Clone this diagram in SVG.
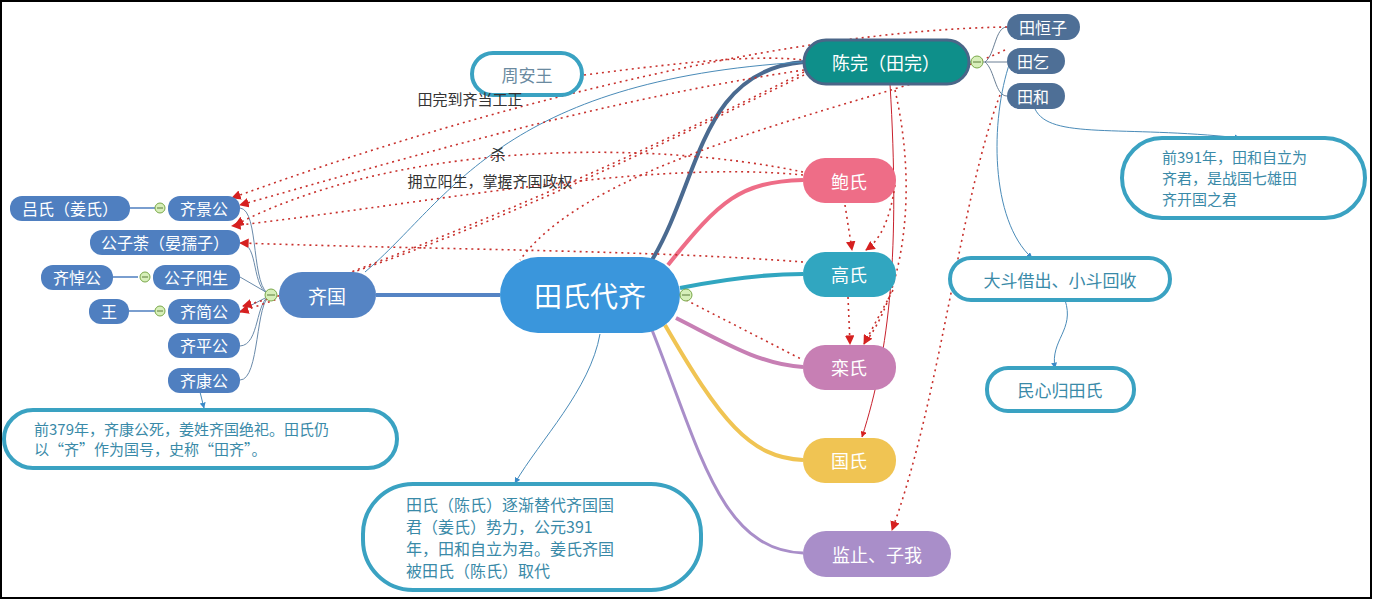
<svg xmlns="http://www.w3.org/2000/svg" width="1373" height="601" viewBox="0 0 1373 601">
<style>
text{font-family:"Noto Sans CJK SC","Liberation Sans",sans-serif;text-anchor:middle;dominant-baseline:central}
.w{fill:#fff}
.sm{font-size:16px;fill:#fff}
.sn{fill:#4f7fc0}
.ob{fill:#fff;stroke:#3aa2c2;stroke-width:4}
.ot{font-size:17px;fill:#3a8aa8}
.ml{fill:#3a8aa8;text-anchor:start;dominant-baseline:auto}
.dot{fill:none;stroke:#c8302c;stroke-width:1.6;stroke-dasharray:2 4}
.thin{fill:none;stroke:#4a8bb8;stroke-width:1}
.lbl{font-size:15px;fill:#333}
.col{fill:#d7efb9;stroke:#7aa84a;stroke-width:1}
.cm{stroke:#5a7a3a;stroke-width:1}
</style>
<defs>
<marker id="ar" viewBox="0 0 10 10" refX="9" refY="5" markerWidth="6" markerHeight="6" orient="auto"><path d="M0,0L10,5L0,10z" fill="#d62020"/></marker>
<marker id="ab" viewBox="0 0 10 10" refX="9" refY="5" markerWidth="6" markerHeight="6" orient="auto"><path d="M0,0L10,5L0,10z" fill="#3a8ac8"/></marker>
</defs>
<rect x="1" y="1" width="1370" height="597" fill="#fff" stroke="#000" stroke-width="2"/>
<g id="connectors">
<path d="M376,295H500" stroke="#5584c4" stroke-width="4" fill="none"/>
<path d="M652,260C700,180 700,70 804,62" stroke="#4a6a90" stroke-width="4" fill="none"/>
<path d="M668,265C720,200 740,182 803,180" stroke="#ee6d87" stroke-width="4" fill="none"/>
<path d="M680,288C720,280 760,274 803,274" stroke="#31a6c0" stroke-width="4" fill="none"/>
<path d="M676,318C720,340 760,365 803,367" stroke="#c77fb4" stroke-width="4" fill="none"/>
<path d="M665,325C720,420 750,458 803,460" stroke="#f0c453" stroke-width="4" fill="none"/>
<path d="M652,330C700,450 720,550 803,553" stroke="#a98ec9" stroke-width="3" fill="none"/>
<path d="M271,295C250,290 260,210 240,208M271,295C250,290 260,243 240,243M271,295L240,277M271,295L240,311M271,295C255,300 260,345 240,346M271,295C255,300 260,380 240,380" fill="none" stroke="#6a8aaa" stroke-width="1"/>
<path d="M130,208H155M113,277H138M129,311H155" stroke="#4f7fc0" stroke-width="1.5"/>
<path d="M969,62H985M985,62C995,55 995,27 1007,27M985,62H1007M985,62C995,70 995,96 1007,96" stroke="#6a7f95" stroke-width="1" fill="none"/>
<path d="M365,272C450,200 500,80 804,62" class="thin"/>
<path d="M200,392L204,408" class="thin" marker-end="url(#ab)"/>
<path d="M600,334C590,390 540,440 515,483" class="thin" marker-end="url(#ab)"/>
<path d="M1035,109C1050,140 1120,125 1240,138" class="thin" marker-end="url(#ab)"/>
<path d="M1010,62C990,120 990,220 1032,258" class="thin" marker-end="url(#ab)"/>
<path d="M1065,300C1075,330 1050,340 1055,368" class="thin" marker-end="url(#ab)"/>
<path d="M890,84C900,250 890,350 862,437" fill="none" stroke="#c8202c" stroke-width="1" marker-end="url(#ar)"/>
<path d="M584,75C700,60 760,55 804,60" class="dot"/>
<path d="M1007,27C800,30 500,100 232,198" class="dot" marker-end="url(#ar)"/>
<path d="M804,70C600,100 400,160 240,205" class="dot" marker-end="url(#ar)"/>
<path d="M803,172C650,140 400,140 235,225" class="dot" marker-end="url(#ar)"/>
<path d="M803,175C650,160 450,200 232,226" class="dot" marker-end="url(#ar)"/>
<path d="M803,262C650,250 450,250 240,243" class="dot" marker-end="url(#ar)"/>
<path d="M804,75C650,150 450,250 243,306" class="dot" marker-end="url(#ar)"/>
<path d="M804,72C650,150 450,240 240,312" class="dot" marker-end="url(#ar)"/>
<path d="M686,300L803,360" class="dot"/>
<path d="M845,205L852,250" class="dot" marker-end="url(#ar)"/>
<path d="M895,185C890,220 880,240 866,250" class="dot" marker-end="url(#ar)"/>
<path d="M848,297L850,344" class="dot" marker-end="url(#ar)"/>
<path d="M893,290L864,344" class="dot" marker-end="url(#ar)"/>
<path d="M895,90C920,200 900,300 864,344" class="dot"/>
<path d="M1000,95C960,200 940,400 892,530" class="dot" marker-end="url(#ar)"/>
<path d="M1005,50C900,100 600,150 520,260" class="dot"/>
</g>
<g id="n-center"><rect x="500" y="257" width="180" height="76" rx="38" fill="#3a96dc"/><text x="590" y="295" class="w" font-size="28">田氏代齐</text><circle cx="686" cy="295" r="6" class="col"/><path d="M682,295H690" class="cm"/></g>
<g id="n-qiguo"><rect x="279" y="272" width="97" height="46" rx="23" fill="#5584c4"/><text x="327" y="295" class="w" font-size="19">齐国</text><circle cx="271" cy="295" r="6" class="col"/><path d="M267,295H275" class="cm"/></g>
<g id="n-chenwan"><rect x="804" y="40" width="165" height="44" rx="22" fill="#0e8f8a" stroke="#4a6688" stroke-width="3"/><text x="886" y="62" class="w" font-size="18">陈完（田完）</text><circle cx="977" cy="62" r="6" class="col"/><path d="M973,62H981" class="cm"/></g>
<g id="n-bao"><rect x="803" y="158" width="93" height="45" rx="22" fill="#ee6d87"/><text x="849" y="181" class="w" font-size="18">鲍氏</text></g>
<g id="n-gao"><rect x="803" y="252" width="93" height="45" rx="22" fill="#31a6c0"/><text x="849" y="274" class="w" font-size="18">高氏</text></g>
<g id="n-luan"><rect x="803" y="345" width="93" height="45" rx="22" fill="#c77fb4"/><text x="849" y="367" class="w" font-size="18">栾氏</text></g>
<g id="n-guo"><rect x="803" y="438" width="93" height="45" rx="22" fill="#f0c453"/><text x="849" y="460" class="w" font-size="18">国氏</text></g>
<g id="n-jian"><rect x="803" y="531" width="148" height="46" rx="23" fill="#a98ec9"/><text x="877" y="554" class="w" font-size="18">监止、子我</text></g>
<g id="n-tianhengzi"><rect x="1007" y="14" width="73" height="26" rx="13" fill="#4e6f96"/><text x="1043" y="27" class="sm">田恒子</text></g>
<g id="n-tianqi"><rect x="1007" y="48" width="58" height="26" rx="13" fill="#4e6f96"/><text x="1033" y="61" class="sm">田乞</text></g>
<g id="n-tianhe"><rect x="1007" y="83" width="58" height="26" rx="13" fill="#4e6f96"/><text x="1033" y="96" class="sm">田和</text></g>
<g id="n-zhouan"><rect x="472" y="53" width="110" height="42" rx="21" class="ob"/><text x="527" y="74" class="ot" style="fill:#6a8aa0">周安王</text></g>
<g id="n-391"><rect x="1122" y="138" width="243" height="80" rx="40" class="ob"/><text class="ml" font-size="15"><tspan x="1162" y="163">前391年，田和自立为</tspan><tspan x="1162" y="184">齐君，是战国七雄田</tspan><tspan x="1162" y="205">齐开国之君</tspan></text></g>
<g id="n-dadou"><rect x="950" y="258" width="220" height="42" rx="21" class="ob"/><text x="1060" y="279" class="ot">大斗借出、小斗回收</text></g>
<g id="n-minxin"><rect x="987" y="368" width="147" height="43" rx="21" class="ob"/><text x="1060" y="389" class="ot">民心归田氏</text></g>
<g id="n-summary"><rect x="363" y="484" width="338" height="106" rx="50" class="ob"/><text class="ml" font-size="16"><tspan x="406" y="511">田氏（陈氏）逐渐替代齐国国</tspan><tspan x="406" y="533">君（姜氏）势力，公元391</tspan><tspan x="406" y="555">年，田和自立为君。姜氏齐国</tspan><tspan x="406" y="577">被田氏（陈氏）取代</tspan></text></g>
<g id="n-379"><rect x="4" y="410" width="393" height="58" rx="29" class="ob"/><text class="ml" font-size="15"><tspan x="34" y="435">前379年，齐康公死，姜姓齐国绝祀。田氏仍</tspan><tspan x="34" y="455">以“齐”作为国号，史称“田齐”。</tspan></text></g>
<g id="n-jinggong"><rect x="168" y="196" width="72" height="25" rx="12" class="sn"/><text x="204" y="208" class="sm">齐景公</text><circle cx="160" cy="208" r="5" class="col"/><path d="M157,208H163" class="cm"/></g>
<g id="n-lvshi"><rect x="10" y="196" width="120" height="25" rx="12" class="sn"/><text x="70" y="208" class="sm">吕氏（姜氏）</text></g>
<g id="n-tu"><rect x="90" y="230" width="150" height="25" rx="12" class="sn"/><text x="165" y="242" class="sm">公子荼（晏孺子）</text></g>
<g id="n-daogong"><rect x="41" y="265" width="72" height="25" rx="12" class="sn"/><text x="77" y="277" class="sm">齐悼公</text></g>
<g id="n-yangsheng"><rect x="153" y="265" width="87" height="25" rx="12" class="sn"/><text x="196" y="277" class="sm">公子阳生</text><circle cx="145" cy="277" r="5" class="col"/><path d="M142,277H148" class="cm"/></g>
<g id="n-wang"><rect x="89" y="299" width="40" height="25" rx="12" class="sn"/><text x="109" y="311" class="sm">王</text></g>
<g id="n-jiangong"><rect x="168" y="299" width="72" height="25" rx="12" class="sn"/><text x="204" y="311" class="sm">齐简公</text><circle cx="160" cy="311" r="5" class="col"/><path d="M157,311H163" class="cm"/></g>
<g id="n-pinggong"><rect x="168" y="333" width="72" height="25" rx="12" class="sn"/><text x="204" y="345" class="sm">齐平公</text></g>
<g id="n-kanggong"><rect x="168" y="368" width="72" height="25" rx="12" class="sn"/><text x="204" y="380" class="sm">齐康公</text></g>
<g id="labels">
<text x="470" y="98" class="lbl">田完到齐当工正</text>
<text x="498" y="153" class="lbl">杀</text>
<text x="490" y="180" class="lbl">拥立阳生，掌握齐国政权</text>
</g>
</svg>
